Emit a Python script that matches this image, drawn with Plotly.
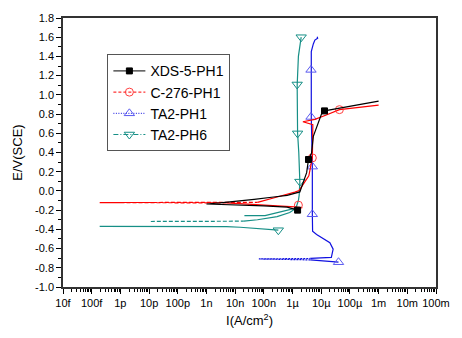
import plotly.graph_objects as go

# ---------------- data (current density A/cm^2, potential V vs SCE) ----------------
# XDS-5-PH1 (black)
xds_I = [1.5e-6, 1.0e-6, 6.5e-7, 1e-7, 1e-8, 1e-9, 3e-9, 1e-8, 4.6e-8, 2.2e-7, 6.5e-7,
         1.8e-6, 3.1e-6, 3.6e-6, 4.6e-6, 5.3e-6, 6.9e-6, 1.02e-5, 1.3e-5, 1e-4, 1e-3]
xds_E = [-0.20, -0.185, -0.168, -0.155, -0.147, -0.136, -0.125, -0.11, -0.087, -0.063, -0.046,
         -0.01, 0.19, 0.327, 0.395, 0.568, 0.67, 0.80, 0.833, 0.88, 0.935]
xds_mk_I = [1.5e-6, 3.6e-6, 1.3e-5]
xds_mk_E = [-0.20, 0.327, 0.833]

# C-276-PH1 (red)
c276_cath_I = [2.2e-6, 1.2e-6, 2.9e-7, 2.1e-8, 5e-9]
c276_cath_E = [-0.175, -0.165, -0.155, -0.131, -0.125]
c276_tail_I = [5e-9, 1.9e-13, 6e-8]
c276_tail_E = [-0.125, -0.121, -0.119]
c276_anod_I = [6e-8, 1.5e-7, 2.9e-7, 1.2e-6, 1.7e-6, 3.7e-6, 4.9e-6, 5.0e-6, 5.1e-6, 2.3e-6,
               6e-6, 1.5e-5, 4.3e-5, 1e-3]
c276_anod_E = [-0.119, -0.09, -0.063, -0.012, 0.005, 0.158, 0.344, 0.50, 0.69, 0.72,
               0.745, 0.79, 0.846, 0.894]
c276_mk_I = [1.6e-6, 4.9e-6, 4.3e-5]
c276_mk_E = [-0.148, 0.344, 0.846]

# TA2-PH1 (blue)
ta1_cath_I = [4.0e-5, 1e-5, 4.2e-6]
ta1_cath_E = [-0.742, -0.725, -0.718]
ta1_tail_I = [4.2e-6, 6.7e-8, 4.2e-6]
ta1_tail_E = [-0.718, -0.708, -0.703]
ta1_anod_I = [4.2e-6, 1.5e-5, 2.25e-5, 2.6e-5, 2.0e-5, 6.9e-6, 5.0e-6, 4.9e-6, 4.9e-6, 4.5e-6,
              4.4e-6, 4.5e-6, 5.3e-6, 6.0e-6, 7.5e-6, 7.2e-6]
ta1_anod_E = [-0.703, -0.695, -0.691, -0.606, -0.539, -0.453, -0.42, -0.243, 0.253, 0.77,
              1.28, 1.45, 1.53, 1.57, 1.59, 1.605]
ta1_mk_I = [4.0e-5, 4.9e-6, 4.9e-6, 4.4e-6, 4.4e-6]
ta1_mk_E = [-0.742, -0.243, 0.253, 0.77, 1.26]

# TA2-PH6 (teal)
ta6_cath_I = [3.2e-7, 1.2e-7, 4e-8, 1.5e-8, 5e-9, 1e-10, 1.9e-13]
ta6_cath_E = [-0.409, -0.398, -0.388, -0.378, -0.372, -0.369, -0.369]
ta6_tail_I = [1.15e-11, 1e-9, 2e-8]
ta6_tail_E = [-0.318, -0.317, -0.315]
ta6_anod_I = [2e-8, 6e-8, 2.9e-7, 8e-7, 1.3e-6, 1.6e-6, 1.7e-6, 1.8e-6, 1.65e-6, 1.5e-6,
              1.45e-6, 1.6e-6, 2.0e-6]
ta6_anod_E = [-0.315, -0.30, -0.267, -0.225, -0.182, -0.10, -0.046, 0.09, 0.40, 0.60,
              1.10, 1.40, 1.60]
ta6_br_I = [2.1e-8, 1.1e-7, 1.2e-6]
ta6_br_E = [-0.257, -0.257, -0.182]
ta6_mk_I = [3.2e-7, 1.8e-6, 1.5e-6, 1.45e-6, 2.0e-6]
ta6_mk_E = [-0.409, 0.097, 0.599, 1.108, 1.60]

# ticks
x_tickvals = [1e-14, 1e-13, 1e-12, 1e-11, 1e-10, 1e-9, 1e-8, 1e-7, 1e-6, 1e-5, 1e-4, 1e-3, 1e-2, 1e-1]
x_ticktext = ['10f', '100f', '1p', '10p', '100p', '1n', '10n', '100n', '1µ', '10µ', '100µ', '1m', '10m', '100m']
y_tickvals = [-1.0, -0.8, -0.6, -0.4, -0.2, 0.0, 0.2, 0.4, 0.6, 0.8, 1.0, 1.2, 1.4, 1.6, 1.8]
y_ticktext = ['-1.0', '-0.8', '-0.6', '-0.4', '-0.2', '0.0', '0.2', '0.4', '0.6', '0.8', '1.0', '1.2', '1.4', '1.6', '1.8']

BLACK = '#000000'
RED = '#ff0000'
BLUE = '#1010e0'
TEAL = '#168f86'

fig = go.Figure()


def line(x, y, color, dash='solid', width=1.2):
    fig.add_trace(go.Scatter(x=x, y=y, mode='lines', line=dict(color=color, width=width, dash=dash),
                             showlegend=False, hoverinfo='skip'))


def markers(x, y, color, symbol, size, fill):
    fig.add_trace(go.Scatter(x=x, y=y, mode='markers', showlegend=False, hoverinfo='skip',
                             marker=dict(symbol=symbol, size=size, color=fill,
                                         line=dict(color=color, width=1))))


def legend_entry(name, color, dash, symbol, size, fill):
    fig.add_trace(go.Scatter(x=[None], y=[None], mode='lines+markers', name=name,
                             line=dict(color=color, width=1, dash=dash),
                             marker=dict(symbol=symbol, size=size, color=fill,
                                         line=dict(color=color, width=1))))


# TA2-PH6
line(ta6_cath_I, ta6_cath_E, TEAL)
line(ta6_tail_I, ta6_tail_E, TEAL, dash='4px,2px')
line(ta6_anod_I, ta6_anod_E, TEAL)
line(ta6_br_I, ta6_br_E, TEAL)
markers(ta6_mk_I, ta6_mk_E, TEAL, 'triangle-down-open', 9, TEAL)
# TA2-PH1
line(ta1_cath_I, ta1_cath_E, BLUE)
line(ta1_tail_I, ta1_tail_E, BLUE, dash='2px,1px')
line(ta1_anod_I, ta1_anod_E, BLUE)
markers(ta1_mk_I, ta1_mk_E, '#5a5af0', 'triangle-up-open', 9, '#5a5af0')
# C-276
line(c276_cath_I, c276_cath_E, RED)
line(c276_tail_I, c276_tail_E, RED, dash='4px,2px')
line(c276_anod_I, c276_anod_E, RED)
markers(c276_mk_I, c276_mk_E, '#ff4040', 'circle-open', 8, '#ff4040')
# XDS-5
line(xds_I, xds_E, BLACK)
markers(xds_mk_I, xds_mk_E, BLACK, 'square', 6, BLACK)

legend_entry('XDS-5-PH1', BLACK, 'solid', 'square', 6, BLACK)
legend_entry('C-276-PH1', RED, '3px,2px', 'circle-open', 8, '#ff4040')
legend_entry('TA2-PH1', BLUE, '1px,1.5px', 'triangle-up-open', 9, '#5a5af0')
legend_entry('TA2-PH6', TEAL, '5px,2px,1px,2px', 'triangle-down-open', 9, TEAL)

FONT = 'Arial, Liberation Sans, sans-serif'
fig.update_layout(
    width=462, height=338,
    margin=dict(l=63, r=21, t=12, b=51),
    paper_bgcolor='white', plot_bgcolor='white',
    font=dict(family=FONT, color='black', size=11),
    legend=dict(x=0.119, y=0.865, xanchor='left', yanchor='top',
                bgcolor='white', bordercolor='#555555', borderwidth=1,
                font=dict(size=14, family=FONT), itemwidth=32, tracegroupgap=0),
    xaxis=dict(type='log', range=[-14, -1], tickmode='array', tickvals=x_tickvals, ticktext=x_ticktext,
               ticks='outside', ticklen=5, tickwidth=1, tickcolor='black',
               showline=True, linecolor='#333333', linewidth=1.5, mirror=True,
               showgrid=False, zeroline=False,
               minor=dict(ticks='outside', ticklen=3, tickcolor='black', showgrid=False,
                          tickvals=[m * 10.0 ** e for e in range(-14, -1) for m in range(2, 10)]),
               title=dict(text='I(A/cm<sup>2</sup>)', font=dict(size=13), standoff=8),
               tickfont=dict(size=11)),
    yaxis=dict(range=[-1.0, 1.8], tickmode='array', tickvals=y_tickvals, ticktext=y_ticktext,
               ticks='outside', ticklen=5, tickwidth=1, tickcolor='black',
               showline=True, linecolor='#333333', linewidth=1.5, mirror=True,
               showgrid=False, zeroline=False,
               minor=dict(ticks='outside', ticklen=3, tickcolor='black', dtick=0.1, showgrid=False),
               title=dict(text='E/V(SCE)', font=dict(size=13), standoff=10),
               tickfont=dict(size=11)),
)

fig.write_html('out.html')
